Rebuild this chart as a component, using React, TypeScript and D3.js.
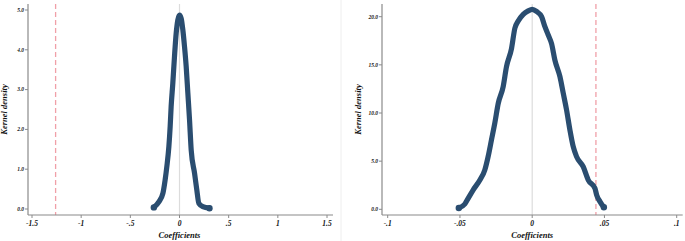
import * as d3 from 'd3';

const FONT = '"Liberation Serif", "DejaVu Serif", serif';
const LINE_COLOR = '#2a4d70';
const REF_COLOR = '#f0a0a8';

// left panel: kernel density of coefficients
const leftXTicks = [-1.5, -1, -0.5, 0, 0.5, 1, 1.5];
const leftXLabels = ['-1.5', '-1', '-.5', '0', '.5', '1', '1.5'];
const leftYTicks = [0, 1, 2, 3, 4, 5];
const leftX = [
  -0.261, -0.21, -0.169, -0.146, -0.129, -0.108, -0.095, -0.085, -0.068, -0.051, -0.034, -0.017, 0,
  0.017, 0.034, 0.051, 0.068, 0.085, 0.102, 0.119, 0.153, 0.176, 0.197, 0.237, 0.305,
];
const leftY = [
  0.04, 0.18, 0.39, 0.73, 1.06, 1.57, 2.07, 2.57, 3.16, 3.83, 4.41, 4.75, 4.87,
  4.79, 4.5, 4.08, 3.58, 2.91, 2.24, 1.48, 0.9, 0.48, 0.14, 0.06, 0.02,
];
const leftRef = -1.26;

// right panel
const rightXTicks = [-0.1, -0.05, 0, 0.05, 0.1];
const rightXLabels = ['-.1', '-.05', '0', '.05', '.1'];
const rightYTicks = [0, 5, 10, 15, 20];
const rightX = [
  -0.0508, -0.0466, -0.0443, -0.0409, -0.0362, -0.0328, -0.0305, -0.0282, -0.0259, -0.0235, -0.0201,
  -0.0178, -0.0143, -0.012, -0.0097, -0.0062, -0.0028, 0, 0.003, 0.0065, 0.0088, 0.0111, 0.0134,
  0.0157, 0.0192, 0.0215, 0.0238, 0.0261, 0.0284, 0.0307, 0.0353, 0.0388, 0.0434, 0.0446, 0.0469,
  0.0496,
];
const rightY = [
  0.14, 0.55, 1.14, 2.0, 3.04, 4.08, 5.47, 7.2, 8.93, 11.0, 12.73, 14.8, 16.7, 18.8, 19.55, 20.25,
  20.6, 20.76, 20.55, 20.0, 18.96, 18.1, 17.2, 15.5, 13.77, 12.04, 10.3, 8.24, 6.5, 5.47, 4.43, 3.04,
  2.18, 1.49, 0.8, 0.21,
];
const rightRef = 0.0441;

type PanelProps = {
  axisX: number;
  xRange: [number, number];
  xDomain: [number, number];
  yRange: [number, number];
  yDomain: [number, number];
  xTicks: number[];
  xLabels: string[];
  yTicks: number[];
  xs: number[];
  ys: number[];
  refX: number;
};

function Panel(p: PanelProps) {
  const x = d3.scaleLinear().domain(p.xDomain).range(p.xRange);
  const y = d3.scaleLinear().domain(p.yDomain).range(p.yRange);
  const axisY = 215;
  const pts = p.xs.map((v, i) => [v, p.ys[i]] as [number, number]);
  const line = d3
    .line<[number, number]>()
    .x((d) => x(d[0]))
    .y((d) => y(d[1]))
    .curve(d3.curveMonotoneX);
  const right = p.xRange[1] + 6;
  const first = pts[0];
  const last = pts[pts.length - 1];

  return (
    <g fontFamily={FONT} fontWeight="bold" fontStyle="italic" fill="#111">
      {/* zero line */}
      <line x1={x(0)} x2={x(0)} y1={4} y2={axisY} stroke="#dcdcdc" strokeWidth={1.2} />
      {/* reference line */}
      <line
        x1={x(p.refX)}
        x2={x(p.refX)}
        y1={4}
        y2={axisY}
        stroke={REF_COLOR}
        strokeWidth={1.3}
        strokeDasharray="5 3"
      />
      <path d={line(pts) ?? ''} fill="none" stroke={LINE_COLOR} strokeWidth={5.2} strokeLinejoin="round" strokeLinecap="round" />
      <circle cx={x(first[0])} cy={y(first[1])} r={3.2} fill={LINE_COLOR} />
      <circle cx={x(last[0])} cy={y(last[1])} r={3.2} fill={LINE_COLOR} />

      {/* axes */}
      <line x1={p.axisX} x2={p.axisX} y1={4} y2={axisY} stroke="#8a8a8a" strokeWidth={1.2} />
      <line x1={p.axisX} x2={right} y1={axisY} y2={axisY} stroke="#8a8a8a" strokeWidth={1.2} />
      {p.yTicks.map((t) => (
        <g key={t}>
          <line x1={p.axisX - 3} x2={p.axisX} y1={y(t)} y2={y(t)} stroke="#8a8a8a" strokeWidth={1} />
          <text x={p.axisX - 4} y={y(t)} dy="0.33em" textAnchor="end" fontSize={5.5}>
            {t.toFixed(1)}
          </text>
        </g>
      ))}
      {p.xTicks.map((t, i) => (
        <g key={t}>
          <line x1={x(t)} x2={x(t)} y1={axisY} y2={axisY + 3} stroke="#8a8a8a" strokeWidth={1} />
          <text x={x(t)} y={axisY + 11} textAnchor="middle" fontSize={7.5}>
            {p.xLabels[i]}
          </text>
        </g>
      ))}
      <text x={x(0)} y={238} textAnchor="middle" fontSize={8.5}>
        Coefficients
      </text>
      <text
        transform={`translate(${p.axisX - 21},${(4 + axisY) / 2}) rotate(-90)`}
        textAnchor="middle"
        fontSize={8.5}
      >
        Kernel density
      </text>
    </g>
  );
}

export default function App() {
  return (
    <div style={{ position: 'fixed', left: 0, top: 0, width: 685, height: 241, background: '#fff' }}>
      <svg width={685} height={241} style={{ display: 'block' }}>
        <rect width={685} height={241} fill="#fff" />
        <Panel
          axisX={28}
          xDomain={[-1.5, 1.5]}
          xRange={[32, 327]}
          yDomain={[0, 5]}
          yRange={[209, 10]}
          xTicks={leftXTicks}
          xLabels={leftXLabels}
          yTicks={leftYTicks}
          xs={leftX}
          ys={leftY}
          refX={leftRef}
        />
        <line x1={341} x2={341} y1={0} y2={241} stroke="#eeeeee" strokeWidth={1} />
        <Panel
          axisX={382}
          xDomain={[-0.1, 0.1]}
          xRange={[387.7, 676.7]}
          yDomain={[0, 20]}
          yRange={[209.3, 16.7]}
          xTicks={rightXTicks}
          xLabels={rightXLabels}
          yTicks={rightYTicks}
          xs={rightX}
          ys={rightY}
          refX={rightRef}
        />
      </svg>
    </div>
  );
}
